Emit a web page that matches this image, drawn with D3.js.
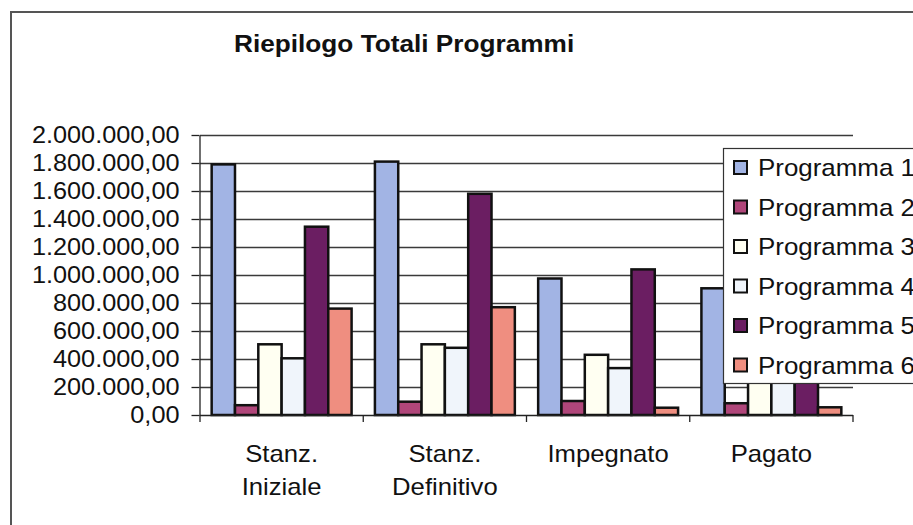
<!DOCTYPE html>
<html>
<head>
<meta charset="utf-8">
<script src="https://cdn.jsdelivr.net/npm/d3@7"></script>
<style>
  html, body { margin: 0; padding: 0; background: #fff; }
  svg { display: block; font-family: "Liberation Sans", Arial, sans-serif; }
</style>
</head>
<body>
<svg id="chart" width="913" height="525"></svg>
<script>
// Categories (two-line labels split on "\n")
const categories = ["Stanz.\nIniziale", "Stanz.\nDefinitivo", "Impegnato", "Pagato"];

// Series names
const seriesNames = ["Programma 1", "Programma 2", "Programma 3", "Programma 4", "Programma 5", "Programma 6"];

// Series values, one per category
const programma1 = [1790000, 1810000, 975000, 905000];
const programma2 = [70000, 95000, 100000, 84000];
const programma3 = [505000, 505000, 430000, 420000];
const programma4 = [405000, 480000, 335000, 330000];
const programma5 = [1345000, 1580000, 1040000, 1000000];
const programma6 = [760000, 770000, 52000, 55000];

// Y-axis tick values
const yTicks = [0, 200000, 400000, 600000, 800000, 1000000, 1200000, 1400000, 1600000, 1800000, 2000000];

const seriesValues = [programma1, programma2, programma3, programma4, programma5, programma6];
const seriesColors = ["#a2b4e4", "#b0467a", "#fffff2", "#f0f5fb", "#6b1e62", "#ef8e80"];

const svg = d3.select("#chart");

// Chart frame
svg.append("path")
  .attr("d", "M11,525 V12 H913")
  .attr("fill", "none")
  .attr("stroke", "#555")
  .attr("stroke-width", 2);

// Title
svg.append("text")
  .attr("transform", "translate(234,52) scale(1.07,1)")
  .attr("font-size", 24.5)
  .attr("font-weight", "bold")
  .attr("fill", "#111")
  .text("Riepilogo Totali Programmi");

const plotLeft = 200, plotRight = 853, plotTop = 135, plotBottom = 415;

const x0 = d3.scaleBand().domain(categories).range([plotLeft, plotRight]).padding(0);
const x1 = d3.scaleBand().domain(seriesNames).range([0, x0.bandwidth()])
  .paddingInner(0).paddingOuter(0.5);
const y = d3.scaleLinear().domain([0, 2000000]).range([plotBottom, plotTop]);

const itFormat = d3.formatLocale({ decimal: ",", thousands: ".", grouping: [3], currency: ["", ""] }).format(",.2f");

// Horizontal gridlines
svg.append("g")
  .selectAll("line")
  .data(yTicks.filter(d => d > 0))
  .join("line")
  .attr("x1", plotLeft).attr("x2", plotRight)
  .attr("y1", d => Math.round(y(d)) + 0.5).attr("y2", d => Math.round(y(d)) + 0.5)
  .attr("stroke", "#3a3a3a")
  .attr("stroke-width", 1.3);

// Bars
const groups = svg.append("g")
  .selectAll("g")
  .data(categories)
  .join("g")
  .attr("transform", d => `translate(${x0(d)},0)`);

groups.selectAll("rect")
  .data((c, ci) => seriesNames.map((s, si) => ({ s, si, v: seriesValues[si][ci] })))
  .join("rect")
  .attr("x", d => x1(d.s))
  .attr("y", d => y(d.v))
  .attr("width", x1.bandwidth())
  .attr("height", d => y(0) - y(d.v))
  .attr("fill", d => seriesColors[d.si])
  .attr("stroke", "#111")
  .attr("stroke-width", 2.5);

// Y axis
const yAxis = svg.append("g")
  .attr("transform", `translate(${plotLeft - 0.5},0)`)
  .call(d3.axisLeft(y).tickValues(yTicks).tickFormat(itFormat).tickSize(8).tickSizeOuter(0));
yAxis.select(".domain").attr("stroke", "#222").attr("stroke-width", 1.3);
yAxis.selectAll(".tick line").attr("stroke", "#222").attr("stroke-width", 1.3);
yAxis.selectAll(".tick text")
  .attr("x", null)
  .attr("transform", "translate(-20,0) scale(1.1,1)")
  .attr("font-size", 23)
  .attr("font-family", "'Liberation Sans', Arial, sans-serif")
  .attr("fill", "#111");

// X axis line and category ticks
const xAxis = svg.append("g");
xAxis.append("line")
  .attr("x1", plotLeft).attr("x2", plotRight)
  .attr("y1", plotBottom + 0.5).attr("y2", plotBottom + 0.5)
  .attr("stroke", "#222").attr("stroke-width", 1.3);
const boundaries = categories.map(c => x0(c)).concat([x0.range()[1]]);
xAxis.selectAll("line.tick")
  .data(boundaries)
  .join("line")
  .attr("class", "tick")
  .attr("x1", d => d).attr("x2", d => d)
  .attr("y1", plotBottom).attr("y2", plotBottom + 7)
  .attr("stroke", "#222").attr("stroke-width", 1.3);

// Category labels
const catLabels = xAxis.selectAll("g.cat")
  .data(categories)
  .join("g")
  .attr("class", "cat")
  .attr("transform", d => `translate(${x0(d) + x0.bandwidth() / 2},0)`);
catLabels.each(function (d) {
  const lines = d.split("\n");
  d3.select(this).selectAll("text")
    .data(lines)
    .join("text")
    .attr("transform", (l, i) => `translate(0,${462 + i * 33}) scale(1.07,1)`)
    .attr("text-anchor", "middle")
    .attr("font-size", 24)
    .attr("fill", "#111")
    .text(l => l);
});

// Legend (its box runs past the right edge of the frame)
const legend = svg.append("g");
legend.append("rect")
  .attr("x", 723.5).attr("y", 148.5)
  .attr("width", 200).attr("height", 235)
  .attr("fill", "#fff")
  .attr("stroke", "#333")
  .attr("stroke-width", 1.2);
const items = legend.selectAll("g.item")
  .data(seriesNames)
  .join("g")
  .attr("class", "item")
  .attr("transform", (d, i) => `translate(0,${i * 39.5})`);
items.append("rect")
  .attr("x", 734).attr("y", 161)
  .attr("width", 13).attr("height", 13)
  .attr("fill", (d, i) => seriesColors[i])
  .attr("stroke", "#111")
  .attr("stroke-width", 2);
items.append("text")
  .attr("transform", "translate(758,176) scale(1.08,1)")
  .attr("font-size", 24)
  .attr("fill", "#111")
  .text(d => d);
</script>
</body>
</html>
